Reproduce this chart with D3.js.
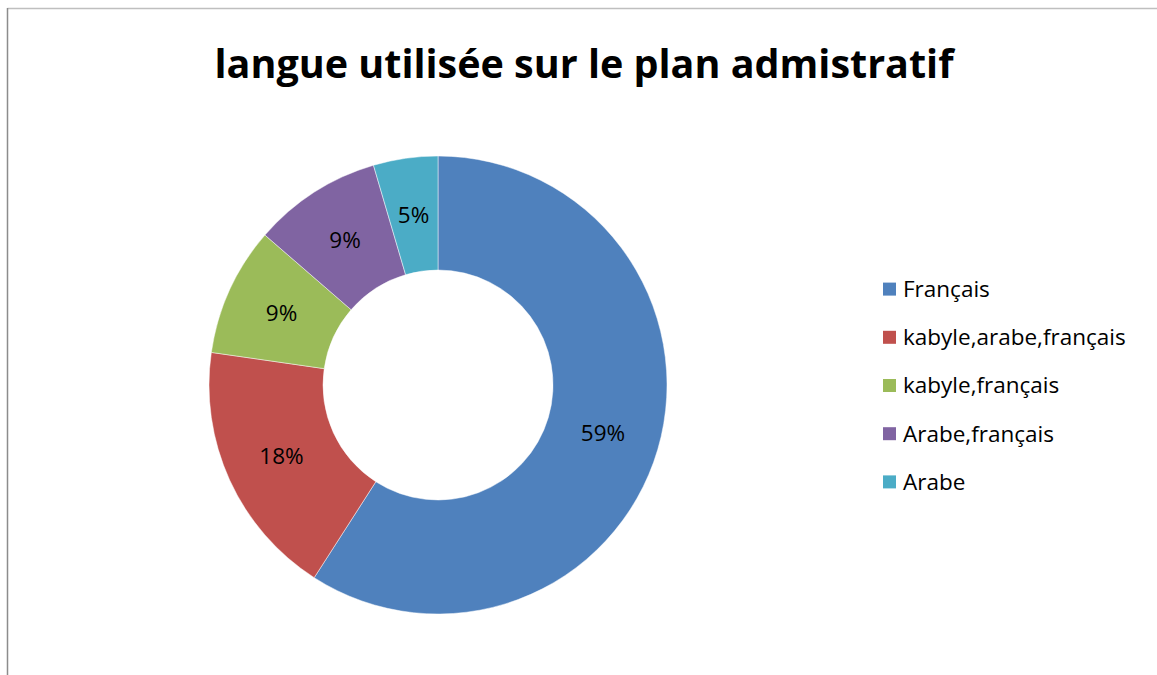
<!DOCTYPE html>
<html>
<head>
<meta charset="utf-8">
<script src="https://cdn.jsdelivr.net/npm/d3@7"></script>
<style>
  body { margin: 0; background: #fff; }
  svg { display: block; }
</style>
</head>
<body>
<div id="chart"></div>
<script>
// data (counts, labels show rounded percent)
var categories = ["Français", "kabyle,arabe,français", "kabyle,français", "Arabe,français", "Arabe"];
var counts = [13, 4, 2, 2, 1];
var colors = ["#4F81BD", "#C0504D", "#9BBB59", "#8064A2", "#4BACC6"];
var title = "langue utilisée sur le plan admistratif";

var width = 1157, height = 675;
var cx = 438, cy = 385, outerR = 229, innerR = 115;
var font = '"Open Sans", sans-serif';

var svg = d3.select('#chart').append('svg')
    .attr('width', width)
    .attr('height', height);

// chart frame (only top and left edges are visible)
svg.append('line')
    .attr('x1', 7.5).attr('y1', 8.5).attr('x2', width).attr('y2', 8.5)
    .attr('stroke', '#bfbfbf').attr('stroke-width', 1.5);
svg.append('line')
    .attr('x1', 7.5).attr('y1', 8).attr('x2', 7.5).attr('y2', height)
    .attr('stroke', '#8c8c8c').attr('stroke-width', 1.5);

svg.append('text')
    .attr('x', 584)
    .attr('y', 78)
    .attr('text-anchor', 'middle')
    .attr('font-family', font)
    .attr('font-weight', 'bold')
    .attr('font-size', '39.5px')
    .attr('fill', '#000')
    .text(title);

var total = d3.sum(counts);
var data = categories.map(function(c, i) {
    return {name: c, value: counts[i], color: colors[i]};
});

var pie = d3.pie().sort(null).value(function(d) { return d.value; });
var arc = d3.arc().innerRadius(innerR).outerRadius(outerR);
var labelArc = d3.arc().innerRadius((innerR + outerR) / 2).outerRadius((innerR + outerR) / 2);

var g = svg.append('g').attr('transform', 'translate(' + cx + ',' + cy + ')');

var arcs = pie(data);

g.selectAll('.slice')
    .data(arcs)
    .enter()
    .append('path')
    .attr('class', 'slice')
    .attr('d', arc)
    .attr('fill', function(d) { return d.data.color; })
    .attr('stroke', '#fff')
    .attr('stroke-width', 0.8)
    .attr('stroke-opacity', 0.6);

g.selectAll('.pct')
    .data(arcs)
    .enter()
    .append('text')
    .attr('class', 'pct')
    .attr('transform', function(d) { return 'translate(' + labelArc.centroid(d) + ')'; })
    .attr('dy', '0.35em')
    .attr('text-anchor', 'middle')
    .attr('font-family', font)
    .attr('font-size', '22.5px')
    .attr('fill', '#000')
    .text(function(d) { return Math.round(d.data.value / total * 100) + '%'; });

// legend
var legendY = d3.scaleBand().domain(categories).range([265, 506]);

var legend = svg.selectAll('.legend')
    .data(data)
    .enter()
    .append('g')
    .attr('class', 'legend')
    .attr('transform', function(d) {
        return 'translate(883,' + (legendY(d.name) + legendY.bandwidth() / 2) + ')';
    });

legend.append('rect')
    .attr('x', 0).attr('y', -6.5)
    .attr('width', 13).attr('height', 13)
    .attr('fill', function(d) { return d.color; });

legend.append('text')
    .attr('x', 20)
    .attr('y', 0)
    .attr('dy', '0.35em')
    .attr('font-family', font)
    .attr('font-size', '22.5px')
    .attr('fill', '#000')
    .text(function(d) { return d.name; });
</script>
</body>
</html>
